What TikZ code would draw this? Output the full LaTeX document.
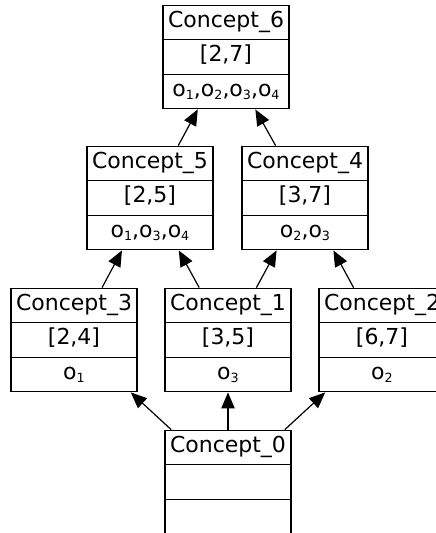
\documentclass[tikz,border=0pt]{standalone}
\usepackage{fontspec}
\setmainfont{DejaVu Sans}
\usetikzlibrary{arrows.meta,shapes.multipart}

\newcommand{\cstrut}{\rule[-9pt]{0pt}{25pt}}
\newcommand{\lattice}[3]{\cstrut#1\nodepart{two}\cstrut#2\nodepart{three}\cstrut#3}
\newcommand{\ob}[1]{o\raisebox{-2.5pt}{\fontsize{9.5}{10}\selectfont #1}}

\begin{document}
\begin{tikzpicture}[
  x=0.75pt, y=-0.75pt,
  font=\fontsize{16.5}{19}\selectfont,
  concept/.style = {rectangle split, rectangle split parts=3, draw=black,
    line width=0.9pt, minimum width=94.5pt, inner xsep=2pt, inner ysep=0pt},
  arrow/.style = {-{Triangle[length=12pt,width=10pt]}, line width=0.9pt, draw=black},
]
  \useasboundingbox (0,0) rectangle (436,533);
  \clip (0,0) rectangle (436,533);

  \node[concept] (c6) at (226,57)  {\lattice{Concept\_6}{[2,7]}{\ob{1},\ob{2},\ob{3},\ob{4}}};
  \node[concept] (c5) at (150,198) {\lattice{Concept\_5}{[2,5]}{\ob{1},\ob{3},\ob{4}}};
  \node[concept] (c4) at (305,198) {\lattice{Concept\_4}{[3,7]}{\ob{2},\ob{3}}};
  \node[concept] (c3) at (74,340)  {\lattice{Concept\_3}{[2,4]}{\ob{1}}};
  \node[concept] (c1) at (228,340) {\lattice{Concept\_1}{[3,5]}{\ob{3}}};
  \node[concept] (c2) at (382,340) {\lattice{Concept\_2}{[6,7]}{\ob{2}}};
  \node[concept] (c0) at (228,482) {\lattice{Concept\_0}{}{}};

  \draw[arrow] (c0) -- (c3);
  \draw[arrow] (c0) -- (c1);
  \draw[arrow] (c0) -- (c2);
  \draw[arrow] (c3) -- (c5);
  \draw[arrow] (c1) -- (c5);
  \draw[arrow] (c1) -- (c4);
  \draw[arrow] (c2) -- (c4);
  \draw[arrow] (c5) -- (c6);
  \draw[arrow] (c4) -- (c6);
\end{tikzpicture}
\end{document}
